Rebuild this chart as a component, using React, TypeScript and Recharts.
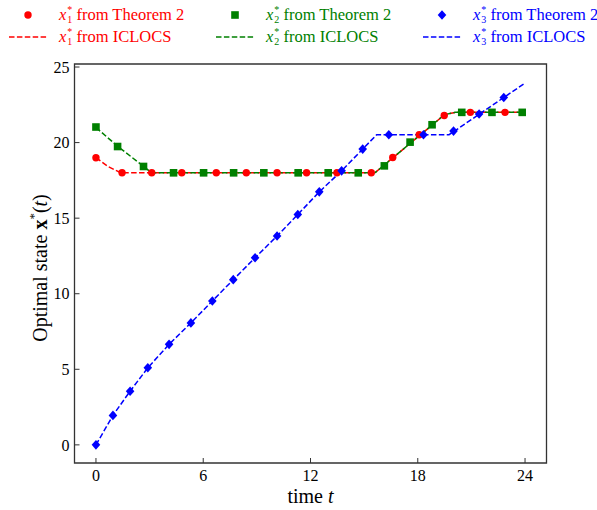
import React from 'react';
import { ComposedChart, Line, Scatter, XAxis, YAxis, ReferenceArea } from 'recharts';

// Theorem 2 markers
const tThm1 = [0, 1.46, 3.12, 4.8, 6.73, 8.41, 10.13, 11.78, 13.48, 15.4, 16.6, 18.08, 19.48, 20.94, 22.88];
const x1Thm = [19, 18, 18, 18, 18, 18, 18, 18, 18, 18, 19.01, 20.52, 21.79, 22, 22];
const tThm2 = [0, 1.21, 2.66, 4.34, 6.02, 7.7, 9.39, 11.31, 12.99, 14.67, 16.13, 17.57, 18.8, 20.46, 22.15, 23.84];
const x2Thm = [21.03, 19.74, 18.42, 18, 18, 18, 18, 18, 18, 18, 18.46, 20.03, 21.18, 22, 22, 22];
const tThm3 = [0, 0.95, 1.91, 2.9, 4.09, 5.31, 6.51, 7.68, 8.9, 10.13, 11.29, 12.49, 13.74, 14.92, 16.38, 18.32, 20.0, 21.43, 22.81];
const x3Thm = [0, 1.95, 3.55, 5.1, 6.65, 8.07, 9.52, 10.93, 12.38, 13.82, 15.24, 16.74, 18.13, 19.57, 20.52, 20.52, 20.76, 21.89, 22.98];

// ICLOCS lines (breakpoints)
const tIc1 = [0, 0.7, 1.4, 15.6, 19.5, 20.1, 24];
const x1Ic = [19, 18.4, 18, 18, 21.85, 22, 22];
const tIc2 = [0, 1.21, 2.66, 3.1, 15.6, 19.5, 20.1, 24];
const x2Ic = [21, 19.76, 18.43, 18, 18, 21.85, 22, 22];
const tIc3 = [0, 0.95, 1.91, 2.9, 4.09, 5.31, 6.51, 7.68, 8.9, 10.13, 11.29, 12.49, 13.74, 14.92, 15.7, 19.75, 24];
const x3Ic = [0, 1.95, 3.55, 5.1, 6.65, 8.07, 9.52, 10.93, 12.38, 13.82, 15.24, 16.74, 18.13, 19.57, 20.52, 20.52, 23.94];

const xTicks = [0, 6, 12, 18, 24];
const yTicks = [0, 5, 10, 15, 20, 25];

const RED = '#ff0000';
const GREEN = '#008000';
const BLUE = '#0000ff';
const FONT = '"Liberation Serif", "DejaVu Serif", serif';
const DASH = '5.5 2.4';

const zip = (ts: number[], ys: number[]) => ts.map((t, i) => ({ t, y: ys[i] }));

const thm1 = zip(tThm1, x1Thm);
const thm2 = zip(tThm2, x2Thm);
const thm3 = zip(tThm3, x3Thm);
const ic1 = zip(tIc1, x1Ic);
const ic2 = zip(tIc2, x2Ic);
const ic3 = zip(tIc3, x3Ic);

const circle = (p: any) => <circle cx={p.cx} cy={p.cy} r={3.7} fill={RED} />;
const square = (p: any) => <rect x={p.cx - 3.8} y={p.cy - 3.8} width={7.6} height={7.6} fill={GREEN} />;
const diamond = (p: any) => (
  <path d={`M${p.cx},${p.cy - 4.8}L${p.cx + 4.3},${p.cy}L${p.cx},${p.cy + 4.8}L${p.cx - 4.3},${p.cy}Z`} fill={BLUE} />
);

// plot box: x 74.5..546.5, y 64..463
const PLOT_LEFT = 74.5;
const PLOT_TOP = 64;
const PLOT_BOTTOM = 463;

function YLabel() {
  const cx = 40;
  const cy = 268;
  return (
    <text x={cx} y={cy} transform={`rotate(-90 ${cx} ${cy})`} textAnchor="middle" dominantBaseline="central" fontFamily={FONT} fontSize={20} fill="#000">
      Optimal state <tspan fontWeight="bold">x</tspan>
      <tspan dy={-7} fontSize={13}>*</tspan>
      <tspan dy={7}>(</tspan>
      <tspan fontStyle="italic">t</tspan>)
    </text>
  );
}

function XLabel() {
  return (
    <text x={310.5} y={503} textAnchor="middle" fontFamily={FONT} fontSize={20} fill="#000">
      time <tspan fontStyle="italic">t</tspan>
    </text>
  );
}

function Sym({ sub }: { sub: string }) {
  return (
    <span style={{ display: 'inline-flex', alignItems: 'center' }}>
      <i>x</i>
      <span style={{ display: 'inline-flex', flexDirection: 'column', fontSize: 10, lineHeight: '10px', marginLeft: 1 }}>
        <span>*</span>
        <span>{sub}</span>
      </span>
    </span>
  );
}

const legendItems = [
  { left: 0, sub: '1', color: RED, shape: 'circle' },
  { left: 207, sub: '2', color: GREEN, shape: 'square' },
  { left: 414, sub: '3', color: BLUE, shape: 'diamond' },
];

function MarkerIcon({ shape, color }: { shape: string; color: string }) {
  return (
    <svg width={40} height={12} style={{ display: 'block' }}>
      {shape === 'circle' && <circle cx={20} cy={6} r={3.7} fill={color} />}
      {shape === 'square' && <rect x={16.2} y={2.2} width={7.6} height={7.6} fill={color} />}
      {shape === 'diamond' && <path d="M20,1.2L24.3,6L20,10.8L15.7,6Z" fill={color} />}
    </svg>
  );
}

function DashIcon({ color }: { color: string }) {
  return (
    <svg width={40} height={12} style={{ display: 'block' }}>
      <line x1={1} y1={6} x2={39} y2={6} stroke={color} strokeWidth={1.5} strokeDasharray={DASH} />
    </svg>
  );
}

function TopLegend() {
  return (
    <div style={{ position: 'absolute', left: 0, top: 0, width: 597, height: 50, fontFamily: FONT, fontSize: 16.5 }}>
      {legendItems.map((it) => (
        <React.Fragment key={it.sub}>
          <div style={{ position: 'absolute', left: it.left + 8, top: 5, display: 'flex', alignItems: 'center', color: it.color, height: 20 }}>
            <MarkerIcon shape={it.shape} color={it.color} />
            <span style={{ marginLeft: 11, display: 'inline-flex', alignItems: 'center', whiteSpace: 'nowrap' }}>
              <Sym sub={it.sub} />&nbsp;from Theorem 2
            </span>
          </div>
          <div style={{ position: 'absolute', left: it.left + 8, top: 27, display: 'flex', alignItems: 'center', color: it.color, height: 20 }}>
            <DashIcon color={it.color} />
            <span style={{ marginLeft: 11, display: 'inline-flex', alignItems: 'center', whiteSpace: 'nowrap' }}>
              <Sym sub={it.sub} />&nbsp;from ICLOCS
            </span>
          </div>
        </React.Fragment>
      ))}
    </div>
  );
}

export default function App() {
  return (
    <div style={{ position: 'relative', width: 597, height: 510, background: '#fff' }}>
      <style>{'body{margin:0}'}</style>
      <ComposedChart width={597} height={510} margin={{ top: PLOT_TOP, right: 50.5, bottom: 510 - PLOT_BOTTOM - 40, left: PLOT_LEFT - 40 }}>
        <XAxis
          type="number"
          dataKey="t"
          domain={[-1.2, 25.2]}
          ticks={xTicks}
          allowDataOverflow
          height={40}
          axisLine={false}
          tickSize={-5}
          tickMargin={12}
          tickLine={{ stroke: '#333', strokeWidth: 1 }}
          tick={{ fontFamily: FONT, fontSize: 16, fill: '#000' }}
        />
        <YAxis
          type="number"
          dataKey="y"
          domain={[-1.2, 25.2]}
          ticks={yTicks}
          allowDataOverflow
          width={40}
          axisLine={false}
          tickSize={-5}
          tickMargin={10}
          tickLine={{ stroke: '#333', strokeWidth: 1 }}
          tick={{ fontFamily: FONT, fontSize: 16, fill: '#000' }}
        />
        <ReferenceArea x1={-1.2} x2={25.2} y1={-1.2} y2={25.2} fill="none" stroke="#333" strokeWidth={1.3} ifOverflow="visible" />
        <Line data={ic1} dataKey="y" stroke={RED} strokeWidth={1.5} strokeDasharray={DASH} dot={false} activeDot={false} isAnimationActive={false} />
        <Line data={ic2} dataKey="y" stroke={GREEN} strokeWidth={1.5} strokeDasharray={DASH} dot={false} activeDot={false} isAnimationActive={false} />
        <Line data={ic3} dataKey="y" stroke={BLUE} strokeWidth={1.5} strokeDasharray={DASH} dot={false} activeDot={false} isAnimationActive={false} />
        <Scatter data={thm1} dataKey="y" shape={circle} isAnimationActive={false} />
        <Scatter data={thm2} dataKey="y" shape={square} isAnimationActive={false} />
        <Scatter data={thm3} dataKey="y" shape={diamond} isAnimationActive={false} />
      </ComposedChart>
      <svg width={597} height={510} style={{ position: 'absolute', left: 0, top: 0, pointerEvents: 'none' }}>
        <YLabel />
        <XLabel />
      </svg>
      <TopLegend />
    </div>
  );
}
